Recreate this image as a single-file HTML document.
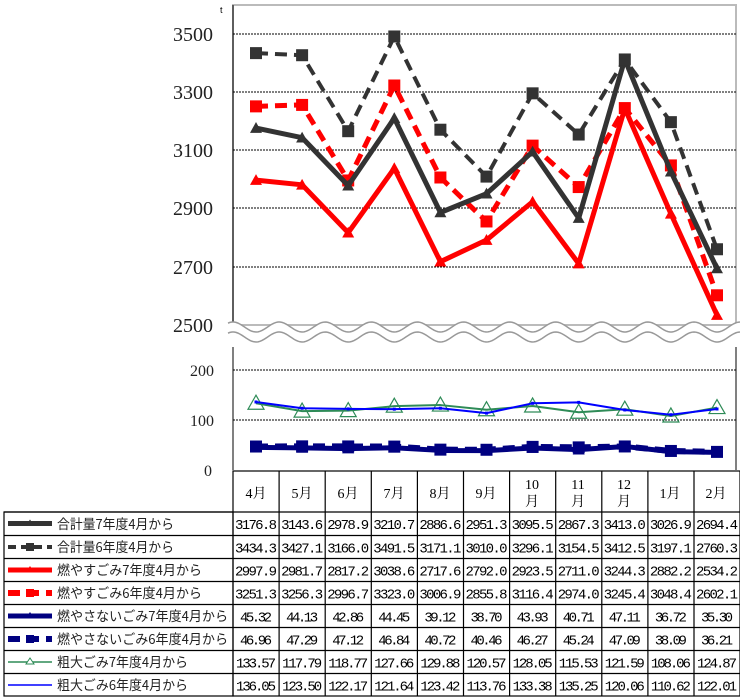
<!DOCTYPE html>
<html><head><meta charset="utf-8"><style>
body{margin:0;background:#fff;width:740px;height:700px;overflow:hidden;position:relative;font-family:"Liberation Serif","Noto Serif CJK SC",serif}
svg{position:absolute;left:0;top:0}
</style></head><body>
<svg id="s" width="740" height="700" xmlns="http://www.w3.org/2000/svg">
<rect x="233" y="5" width="503" height="320" fill="none" stroke="#bbb" stroke-width="2"/>
<line x1="233" y1="5" x2="233" y2="325" stroke="#000" stroke-width="1"/>
<g stroke="#000" stroke-dasharray="2,1" stroke-width="1">
<line x1="233" y1="34" x2="736" y2="34"/><line x1="233" y1="92" x2="736" y2="92"/>
<line x1="233" y1="150" x2="736" y2="150"/><line x1="233" y1="208" x2="736" y2="208"/>
<line x1="233" y1="267" x2="736" y2="267"/>
<line x1="233" y1="370" x2="736" y2="370"/><line x1="233" y1="420" x2="736" y2="420"/>
</g>
<line x1="233" y1="347" x2="233" y2="470" stroke="#000"/>
<line x1="736" y1="347" x2="736" y2="470" stroke="#000"/>
<g font-size="20" text-anchor="end" fill="#222">
<text x="213" y="41">3500</text><text x="213" y="99">3300</text><text x="213" y="157">3100</text>
<text x="213" y="215">2900</text><text x="213" y="274">2700</text><text x="213" y="332">2500</text>
</g>
<text x="220" y="13" font-size="9" font-family="Liberation Sans,sans-serif">t</text>
<g font-size="16" text-anchor="end" fill="#222">
<text x="214" y="376">200</text><text x="214" y="426">100</text><text x="212" y="476">0</text>
</g>
<g id="wave"></g>
<g id="series"></g>
<g stroke="#000" stroke-width="1.2" fill="none">
<rect x="233" y="471" width="507" height="225"/>
<rect x="4" y="512" width="229" height="184"/>
<g id="tl"></g>
</g>
<g font-size="14" text-anchor="middle" font-family="Liberation Serif,'Noto Serif CJK JP',serif">
<text x="256" y="498">4月</text><text x="302" y="498">5月</text><text x="348" y="498">6月</text>
<text x="394" y="498">7月</text><text x="440" y="498">8月</text><text x="486" y="498">9月</text>
<text x="532" y="489">10</text><text x="532" y="506">月</text>
<text x="578" y="489">11</text><text x="578" y="506">月</text>
<text x="624" y="489">12</text><text x="624" y="506">月</text>
<text x="670" y="498">1月</text><text x="716" y="498">2月</text>
</g>
<g font-size="13.5" font-family="'Noto Sans CJK JP',sans-serif" fill="#222">
<text x="57" y="529" textLength="117" lengthAdjust="spacingAndGlyphs">合計量7年度4月から</text>
<text x="57" y="552" textLength="117" lengthAdjust="spacingAndGlyphs">合計量6年度4月から</text>
<text x="57" y="575" textLength="145" lengthAdjust="spacingAndGlyphs">燃やすごみ7年度4月から</text>
<text x="57" y="598" textLength="145" lengthAdjust="spacingAndGlyphs">燃やすごみ6年度4月から</text>
<text x="57" y="621" textLength="171" lengthAdjust="spacingAndGlyphs">燃やさないごみ7年度4月から</text>
<text x="57" y="644" textLength="171" lengthAdjust="spacingAndGlyphs">燃やさないごみ6年度4月から</text>
<text x="57" y="667" textLength="131" lengthAdjust="spacingAndGlyphs">粗大ごみ7年度4月から</text>
<text x="57" y="690" textLength="131" lengthAdjust="spacingAndGlyphs">粗大ごみ6年度4月から</text>
</g>
<g id="tv" font-size="14" text-anchor="middle" font-family="Liberation Mono,monospace"></g>
<g id="leg"></g>
</svg>
<script>
var NS="http://www.w3.org/2000/svg";
function el(p,t,a){var e=document.createElementNS(NS,t);for(var k in a)e.setAttribute(k,a[k]);p.appendChild(e);return e;}
var w=document.getElementById('wave');
function wy(x,y0){return y0-5*Math.cos((x-233)/46.1*2*Math.PI)}
function wp(y0){var d="M228 "+wy(228,y0);for(var x=228;x<=740;x+=2){d+=" L"+x+" "+wy(x,y0)}return d;}
var d1=wp(327),d2=wp(337);
var band=d1;for(var x=740;x>=228;x-=2){band+=" L"+x+" "+wy(x,337)}
el(w,'path',{d:band+"Z",fill:"#fff"});
el(w,'path',{d:d1,fill:"none",stroke:"#999","stroke-width":1.5});
el(w,'path',{d:d2,fill:"none",stroke:"#999","stroke-width":1.5});
var D={
t7:[3176.8,3143.6,2978.9,3210.7,2886.6,2951.3,3095.5,2867.3,3413.0,3026.9,2694.4],
t6:[3434.3,3427.1,3166.0,3491.5,3171.1,3010.0,3296.1,3154.5,3412.5,3197.1,2760.3],
m7:[2997.9,2981.7,2817.2,3038.6,2717.6,2792.0,2923.5,2711.0,3244.3,2882.2,2534.2],
m6:[3251.3,3256.3,2996.7,3323.0,3006.9,2855.8,3116.4,2974.0,3245.4,3048.4,2602.1],
n7:[45.32,44.13,42.86,44.45,39.12,38.70,43.93,40.71,47.11,36.72,35.30],
n6:[46.96,47.29,47.12,46.84,40.72,40.46,46.27,45.24,47.09,38.09,36.21],
g7:[133.57,117.79,118.77,127.66,129.88,120.57,128.05,115.53,121.59,108.06,124.87],
g6:[136.05,123.50,122.17,121.64,123.42,113.76,133.38,135.25,120.06,110.62,122.01]};
function X(i){return 256+46.1*i}
function YU(v){return 325-(v-2500)*0.291}
function YL(v){return 470-v*0.5}
var S=document.getElementById('series');
function line(arr,yf,col,wd,dash,mk,ms){
 var p=arr.map(function(v,i){return X(i)+","+yf(v)}).join(" ");
 var a={points:p,fill:"none",stroke:col,"stroke-width":wd,"stroke-linejoin":"round"};
 if(dash)a["stroke-dasharray"]=dash;
 el(S,'polyline',a);
 arr.forEach(function(v,i){var x=X(i),y=yf(v);
  if(mk=='sq')el(S,'rect',{x:x-ms,y:y-ms,width:2*ms,height:2*ms,fill:col});
  else if(mk=='tri')el(S,'polygon',{points:(x)+","+(y-ms)+" "+(x-ms)+","+(y+ms*0.8)+" "+(x+ms)+","+(y+ms*0.8),fill:col});
  else if(mk=='htri')el(S,'polygon',{points:(x)+","+(y-8)+" "+(x-8)+","+(y+6)+" "+(x+8)+","+(y+6),fill:"none",stroke:col,"stroke-width":1.2});
  else if(mk=='dot')el(S,'rect',{x:x-1.5,y:y-1.5,width:3,height:3,fill:col});
 });
}
line(D.m7,YU,"#f00",5,null,'tri',6);
line(D.m6,YU,"#f00",5,"12,7",'sq',6);
line(D.t7,YU,"#333",5,null,'tri',6);
line(D.t6,YU,"#333",4,"12,7",'sq',6);
line(D.g7,YL,"#2e8b57",2,null,'htri');
line(D.g6,YL,"#0000ff",2,null,'dot');
line(D.n6,YL,"#000080",6,"12,7",'sq',6);
line(D.n7,YL,"#000080",5,null,'tri',6);
var tl=document.getElementById('tl');
for(var i=1;i<11;i++){var x=233+46.1*i;el(tl,'line',{x1:x,y1:471,x2:x,y2:696});}
var rows=[512,535.5,558.5,581.5,604.5,627.5,650.5,673.5];
rows.forEach(function(y){el(tl,'line',{x1:4,y1:y,x2:740,y2:y});});
var keys=['t7','t6','m7','m6','n7','n6','g7','g6'],tv=document.getElementById('tv');
keys.forEach(function(k,r){D[k].forEach(function(v,i){
 var t=el(tv,'text',{x:X(i),y:rows[r]+17});t.textContent=(r<4?v.toFixed(1):v.toFixed(2));
 t.setAttribute('textLength',r<4?42:(r<6?32:40));});});
var L=document.getElementById('leg');
var lg=[["#333",5,null,'tri'],["#333",4,"8,5",'sq'],["#f00",5,null,'tri'],["#f00",6,"12,7",'sq'],["#000080",5,null,'tri'],["#000080",6,"12,7",'sq'],["#2e8b57",1.5,null,'htri'],["#0000ff",1.5,null,null]];
lg.forEach(function(o,r){var y=rows[r]+11.5;
 var a={x1:8,y1:y,x2:52,y2:y,stroke:o[0],"stroke-width":o[1]};if(o[2])a["stroke-dasharray"]=o[2];el(L,'line',a);
 if(o[3]=='sq')el(L,'rect',{x:26,y:y-4,width:8,height:8,fill:o[0]});
 if(o[3]=='tri')el(L,'polygon',{points:"30,"+(y-4)+" 26,"+(y+2)+" 34,"+(y+2),fill:o[0]});
 if(o[3]=='htri')el(L,'polygon',{points:"30,"+(y-4)+" 26,"+(y+2)+" 34,"+(y+2),fill:"#fff",stroke:o[0]});
});
</script>
</body></html>
